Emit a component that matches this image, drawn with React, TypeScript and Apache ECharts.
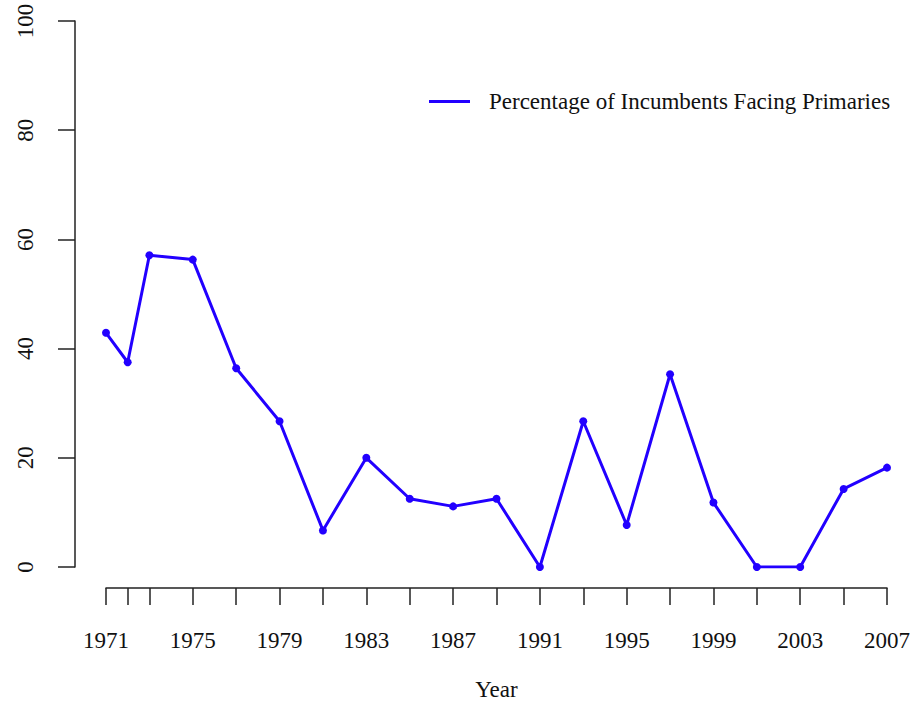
import React, { useEffect, useRef } from "react";
import * as echarts from "echarts";

const years = [1971, 1972, 1973, 1975, 1977, 1979, 1981, 1983, 1985, 1987, 1989, 1991, 1993, 1995, 1997, 1999, 2001, 2003, 2005, 2007];
const pct = [42.9, 37.5, 57.1, 56.3, 36.4, 26.7, 6.7, 20.0, 12.5, 11.1, 12.5, 0, 26.7, 7.7, 35.3, 11.8, 0, 0, 14.3, 18.2];
const xTickValues = years;
const xLabelValues = [1971, 1975, 1979, 1983, 1987, 1991, 1995, 1999, 2003, 2007];
const yTicks = [0, 20, 40, 60, 80, 100];
const seriesName = "Percentage of Incumbents Facing Primaries";
const xTitle = "Year";

const FONT = "'Liberation Serif', 'DejaVu Serif', serif";
const FS = 23;
const BLUE = "#2200ff";
const AXIS = "#222222";

export default function App() {
  const ref = useRef<HTMLDivElement>(null);
  useEffect(() => {
    if (!ref.current) return;
    const chart = echarts.init(ref.current, null, { renderer: "svg" });
    chart.setOption({
      animation: false,
      backgroundColor: "#ffffff",
      grid: { left: 106, right: 33, top: 21, bottom: 134, containLabel: false },
      legend: {
        data: [seriesName],
        left: 424,
        top: 85,
        icon: "rect",
        itemWidth: 41,
        itemHeight: 3,
        textStyle: { fontFamily: FONT, fontSize: FS, color: "#111", padding: [0, 0, 0, 14] },
      },
      xAxis: {
        type: "value",
        min: 1971,
        max: 2007,
        offset: 21,
        name: xTitle,
        nameLocation: "middle",
        nameGap: 90,
        nameTextStyle: { fontFamily: FONT, fontSize: FS, color: "#111" },
        splitLine: { show: false },
        axisLine: { show: true, onZero: false, lineStyle: { color: AXIS, width: 1.5 } },
        axisTick: { show: true, length: 17, customValues: xTickValues, lineStyle: { color: AXIS, width: 1.5 } },
        axisLabel: {
          customValues: xLabelValues,
          formatter: (v: number) => String(v),
          margin: 41,
          fontFamily: FONT,
          fontSize: FS,
          color: "#111",
        },
      },
      yAxis: {
        type: "value",
        min: 0,
        max: 100,
        interval: 20,
        offset: 31,
        splitLine: { show: false },
        axisLine: { show: true, onZero: false, lineStyle: { color: AXIS, width: 1.5 } },
        axisTick: { show: true, length: 17, customValues: yTicks, lineStyle: { color: AXIS, width: 1.5 } },
        axisLabel: {
          rotate: 90,
          margin: 38,
          fontFamily: FONT,
          fontSize: FS,
          color: "#111",
        },
      },
      series: [
        {
          name: seriesName,
          type: "line",
          data: years.map((y, i) => [y, pct[i]]),
          symbol: "circle",
          symbolSize: 8,
          itemStyle: { color: BLUE },
          lineStyle: { color: BLUE, width: 3 },
        },
      ],
    });
    return () => chart.dispose();
  }, []);
  return <div ref={ref} style={{ width: 920, height: 706, position: "absolute", left: 0, top: 0 }} />;
}
